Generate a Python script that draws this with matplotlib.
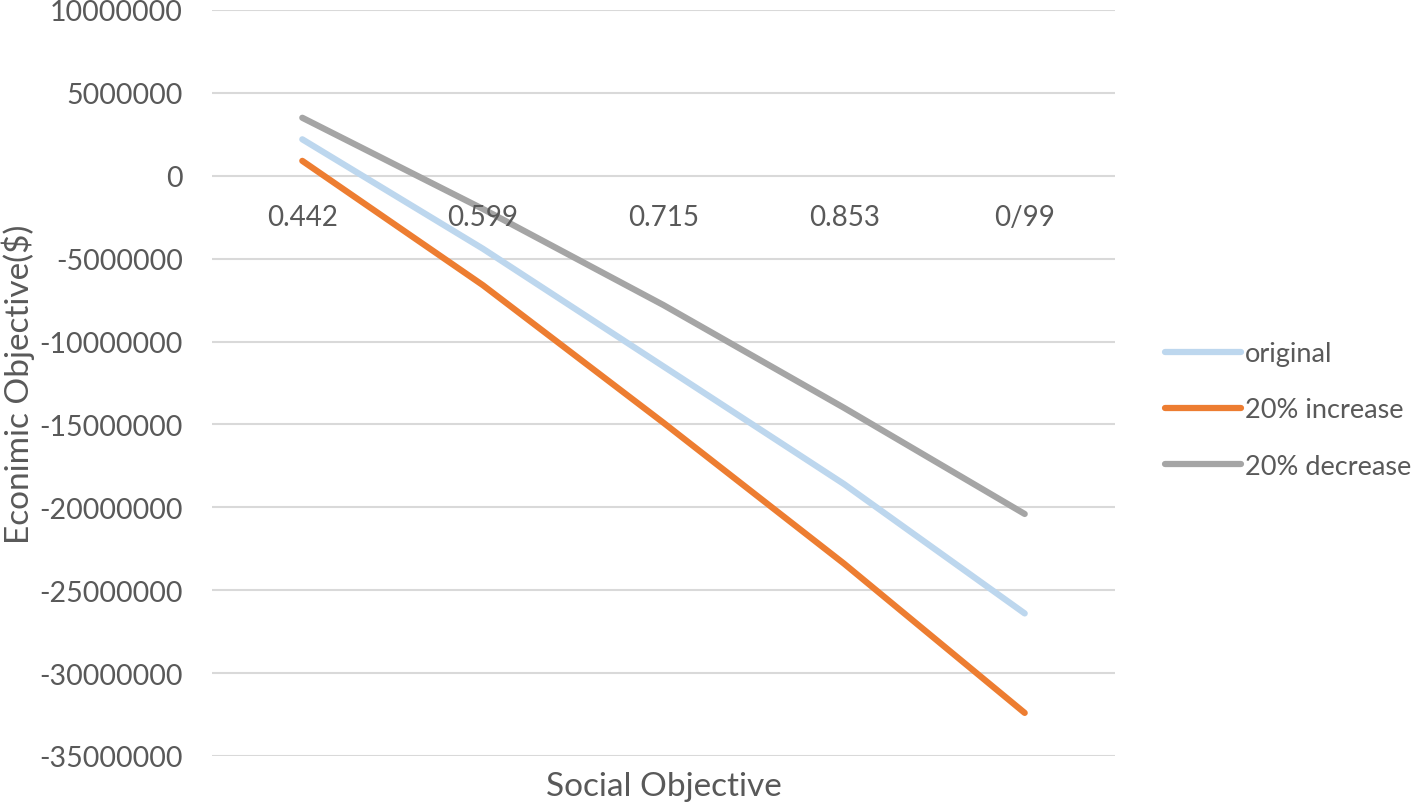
import matplotlib
matplotlib.use("Agg")
import matplotlib.pyplot as plt

categorias = ["0.442", "0.599", "0.715", "0.853", "0/99"]
original = [2200000, -4400000, -11500000, -18600000, -26400000]
aumento = [900000, -6600000, -14900000, -23400000, -32400000]
disminucion = [3500000, -2000000, -7800000, -14000000, -20400000]

series = [("original", original, "#BDD7EE"),
          ("20% increase", aumento, "#ED7D31"),
          ("20% decrease", disminucion, "#A5A5A5")]

TXT = "#595959"
plt.rcParams["font.family"] = ["Lato", "DejaVu Sans"]

fig = plt.figure(figsize=(14.18, 8.04), dpi=100)
ax = fig.add_axes([212 / 1418, 1 - 757 / 804, 903 / 1418, 746 / 804])

x = range(len(categorias))
for nombre, vals, color in series:
    ax.plot(x, vals, color=color, lw=4.5, solid_capstyle="round",
            solid_joinstyle="round", label=nombre, zorder=3)

ax.set_xlim(-0.5, len(categorias) - 0.5)
ax.set_ylim(-35000000, 10000000)
ax.set_yticks(range(-35000000, 10000001, 5000000))
ax.yaxis.set_major_formatter(matplotlib.ticker.FuncFormatter(lambda v, p: f"{v:.0f}"))
ax.tick_params(axis="y", length=0, pad=21, labelsize=20.5, labelcolor=TXT)
ax.grid(axis="y", color="#D9D9D9", lw=1.5, zorder=0)
for s in ax.spines.values():
    s.set_visible(False)

# etiquetas de categoría pegadas al eje en y=0
ax.set_xticks([])
for i, c in enumerate(categorias):
    ax.annotate(c, (i, 0), xytext=(0, -41), textcoords="offset pixels",
                ha="center", va="center", fontsize=20, color=TXT)

ax.set_ylabel("Econimic Objective($)", fontsize=24, color=TXT)
ax.yaxis.label.set_va("center")
ax.yaxis.set_label_coords(-(212 - 18) / 903, 0.5)
ax.text(0.5, -(787 - 757) / 746, "Social Objective", transform=ax.transAxes,
        ha="center", va="center", fontsize=24, color=TXT)

leg = ax.legend(loc="center left", bbox_to_anchor=((1165 - 212) / 903, (757 - 411) / 746),
                frameon=False, fontsize=19.5, handlelength=2.8, handletextpad=0.15,
                labelspacing=1.15, borderpad=0, borderaxespad=0, labelcolor=TXT)

fig.savefig("out.png", dpi=100)
